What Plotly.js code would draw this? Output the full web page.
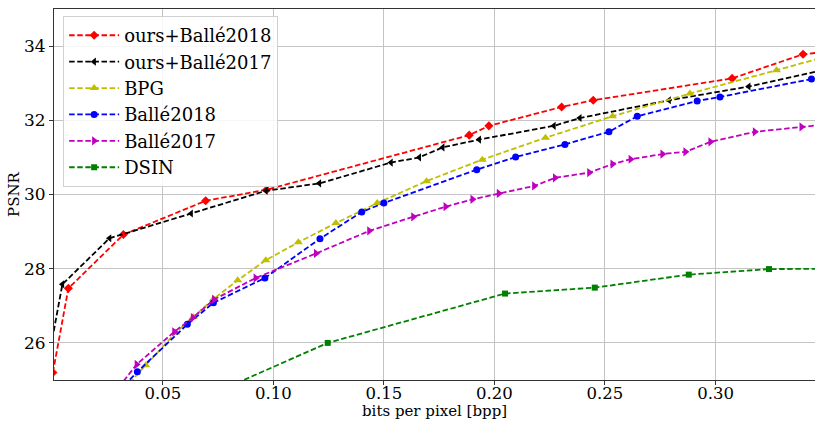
<!DOCTYPE html>
<html>
<head>
<meta charset="utf-8">
<script src="https://cdn.plot.ly/plotly-3.0.1.min.js"></script>
<style>html,body{margin:0;padding:0;background:#fff;}#chart{width:815px;height:421px;}</style>
</head>
<body>
<div id="chart"></div>
<script>
// Data
const names = ["ours+Ballé2018", "ours+Ballé2017", "BPG", "Ballé2018", "Ballé2017", "DSIN"];

const oursB18_x = [0.0003, 0.0073, 0.0322, 0.0694, 0.0970, 0.1886, 0.1975, 0.2304, 0.2447, 0.3075, 0.3396, 0.3600];
const oursB18_y = [25.20, 27.47, 28.92, 29.83, 30.13, 31.60, 31.85, 32.36, 32.54, 33.13, 33.78, 33.91];

const oursB17_x = [0.0000, 0.0046, 0.0259, 0.0628, 0.0966, 0.1208, 0.1532, 0.1660, 0.1766, 0.1931, 0.2269, 0.2386, 0.2790, 0.3150, 0.3600];
const oursB17_y = [26.10, 27.58, 28.82, 29.49, 30.10, 30.30, 30.86, 31.00, 31.27, 31.48, 31.85, 32.06, 32.54, 32.91, 33.50];

const bpg_x = [0.0300, 0.0423, 0.0559, 0.0638, 0.0729, 0.0839, 0.0966, 0.1113, 0.1283, 0.1470, 0.1693, 0.1945, 0.2231, 0.2534, 0.2884, 0.3276, 0.3550];
const bpg_y = [24.60, 25.40, 26.28, 26.70, 27.18, 27.69, 28.23, 28.71, 29.23, 29.77, 30.36, 30.94, 31.53, 32.11, 32.72, 33.35, 33.80];

const b18_x = [0.0300, 0.0385, 0.0611, 0.0729, 0.0962, 0.1211, 0.1400, 0.1500, 0.1920, 0.2096, 0.2319, 0.2518, 0.2646, 0.2917, 0.3020, 0.3434];
const b18_y = [24.70, 25.22, 26.50, 27.08, 27.75, 28.81, 29.53, 29.77, 30.67, 31.01, 31.35, 31.69, 32.11, 32.52, 32.63, 33.11];

const b17_x = [0.0300, 0.0382, 0.0552, 0.0636, 0.0732, 0.0920, 0.1193, 0.1434, 0.1633, 0.1779, 0.1901, 0.2020, 0.2180, 0.2274, 0.2429, 0.2534, 0.2616, 0.2760, 0.2864, 0.2977, 0.3178, 0.3389, 0.3600];
const b17_y = [24.80, 25.42, 26.30, 26.68, 27.17, 27.75, 28.41, 29.02, 29.40, 29.67, 29.87, 30.03, 30.23, 30.45, 30.59, 30.82, 30.95, 31.09, 31.15, 31.42, 31.69, 31.82, 31.95];

const dsin_x = [0.0600, 0.1246, 0.2048, 0.2454, 0.2879, 0.3242, 0.3600];
const dsin_y = [24.30, 26.00, 27.33, 27.49, 27.84, 27.99, 28.00];

const xTickVals = [0.05, 0.10, 0.15, 0.20, 0.25, 0.30];
const xTickText = ["0.05", "0.10", "0.15", "0.20", "0.25", "0.30"];
const yTickVals = [26, 28, 30, 32, 34];
const yTickText = ["26", "28", "30", "32", "34"];
const xTitle = "bits per pixel [bpp]";
const yTitle = "PSNR";

const xs = [oursB18_x, oursB17_x, bpg_x, b18_x, b17_x, dsin_x];
const ys = [oursB18_y, oursB17_y, bpg_y, b18_y, b17_y, dsin_y];
const colors = ["#ff0000", "#000000", "#bfbf00", "#0000ff", "#bf00bf", "#008000"];
const symbols = ["diamond", "triangle-left", "triangle-up", "circle", "triangle-right", "square"];
const sizes = [7, 7, 8, 7, 8, 6];

const traces = names.map((n, i) => ({
  x: xs[i], y: ys[i], name: n, type: "scatter", mode: "lines+markers",
  line: {color: colors[i], width: 1.8, dash: "5.5px,2.6px"},
  marker: {color: colors[i], symbol: symbols[i], size: sizes[i], line: {width: 0}},
  cliponaxis: true
}));

const font = "DejaVu Serif";
const layout = {
  width: 815, height: 421,
  margin: {l: 54, r: 0, t: 9, b: 41},
  paper_bgcolor: "#ffffff", plot_bgcolor: "#ffffff",
  font: {family: font, color: "#000"},
  showlegend: true,
  legend: {
    x: 0.012, y: 0.981, xanchor: "left", yanchor: "top",
    itemwidth: 50,
    bgcolor: "rgba(255,255,255,0.85)", bordercolor: "#d0d0d0", borderwidth: 1,
    font: {family: font, size: 18, color: "#000"}
  },
  xaxis: {
    range: [0.0008, 0.345],
    tickvals: xTickVals, ticktext: xTickText,
    ticks: "outside", ticklen: 4, tickcolor: "#333",
    ticklabelstandoff: -6,
    tickfont: {family: font, size: 16.5},
    showgrid: true, gridcolor: "#c4c4c4", gridwidth: 1,
    zeroline: false,
    showline: true, linecolor: "#333", linewidth: 1, mirror: true
  },
  yaxis: {
    range: [25, 35],
    tickvals: yTickVals, ticktext: yTickText,
    ticks: "outside", ticklen: 4, tickcolor: "#333",
    tickfont: {family: font, size: 17},
    showgrid: true, gridcolor: "#c4c4c4", gridwidth: 1,
    zeroline: false,
    showline: true, linecolor: "#333", linewidth: 1, mirror: true,
    title: {text: yTitle, font: {family: font, size: 15}, standoff: 0}
  },
  annotations: [{
    text: xTitle, xref: "paper", yref: "paper", x: 0.5, y: -0.084,
    xanchor: "center", yanchor: "middle", showarrow: false,
    font: {family: font, size: 15, color: "#000"}
  }]
};

Plotly.newPlot("chart", traces, layout, {displayModeBar: false, staticPlot: true});
</script>
</body>
</html>
